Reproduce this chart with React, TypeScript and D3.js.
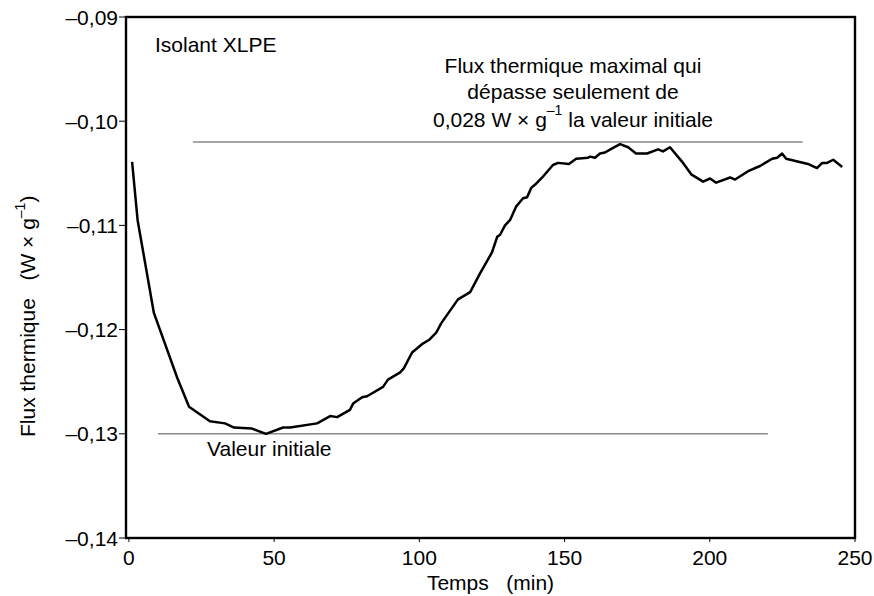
import React from "react";
import * as d3 from "d3";

const times = [1.1, 3.0, 8.6, 16.6, 20.7, 27.9, 33.1, 36.2, 42.4, 47.2, 53.1, 55.5, 64.8, 69.3, 71.7, 76.1, 77.2, 80.3, 82.0, 87.5, 89.2, 93.4, 94.7, 97.5, 100.9, 103.3, 105.8, 107.5, 113.3, 117.5, 120.9, 125.0, 126.8, 127.8, 129.5, 131.2, 133.3, 135.7, 137.1, 138.5, 139.8, 142.3, 146.0, 147.8, 151.5, 154.0, 158.1, 158.8, 160.5, 162.2, 163.9, 166.4, 169.1, 171.9, 174.6, 178.4, 182.2, 183.9, 186.3, 190.5, 193.6, 197.7, 200.1, 202.2, 207.0, 208.7, 213.2, 217.3, 221.5, 223.2, 224.9, 226.3, 233.8, 236.9, 238.7, 240.4, 242.5, 245.6];
const flux = [-0.1039, -0.1095, -0.1184, -0.1246, -0.1274, -0.1288, -0.129, -0.1294, -0.1295, -0.13, -0.1294, -0.1294, -0.129, -0.1283, -0.1284, -0.1277, -0.1271, -0.1265, -0.1264, -0.1255, -0.1248, -0.1241, -0.1237, -0.1222, -0.1214, -0.121, -0.1203, -0.1194, -0.1171, -0.1164, -0.1146, -0.1126, -0.1111, -0.1109, -0.11, -0.1095, -0.1082, -0.1074, -0.1073, -0.1064, -0.1061, -0.1054, -0.1042, -0.104, -0.1041, -0.1036, -0.1035, -0.1034, -0.1035, -0.1031, -0.103, -0.1026, -0.1022, -0.1025, -0.1031, -0.1031, -0.1027, -0.1029, -0.1025, -0.1039, -0.1051, -0.1058, -0.1055, -0.1059, -0.1054, -0.1056, -0.1048, -0.1043, -0.1036, -0.1035, -0.1031, -0.1036, -0.1041, -0.1045, -0.104, -0.104, -0.1037, -0.1044];

const xTicks = [0, 50, 100, 150, 200, 250];
const yTicks = [-0.14, -0.13, -0.12, -0.11, -0.1, -0.09];
const yTickLabels = ["–0,14", "–0,13", "–0,12", "–0,11", "–0,10", "–0,09"];

const initialValue = -0.13;
const initialSpan = [10, 220];
const maxValue = -0.102;
const maxSpan = [22, 232];

const FONT = "'Liberation Sans', Arial, Helvetica, sans-serif";

export default function App() {
  const left = 126, right = 855, top = 17, bottom = 538;
  const x = d3.scaleLinear().domain([-1, 250]).range([left, right]);
  const y = d3.scaleLinear().domain([-0.14, -0.09]).range([bottom, top]);
  const pts = times.map((t, i) => [t, flux[i]] as [number, number]);
  const line = d3.line<[number, number]>().x(d => x(d[0])).y(d => y(d[1]));
  const fs = 21;

  return (
    <svg width={874} height={596} style={{ position: "absolute", left: 0, top: 0, background: "#fff" }} fontFamily={FONT}>
      <rect x={0} y={0} width={874} height={596} fill="#fff" />
      {/* reference lines */}
      <line x1={x(initialSpan[0])} x2={x(initialSpan[1])} y1={y(initialValue)} y2={y(initialValue)} stroke="#8a8a8a" strokeWidth={1.6} />
      <line x1={x(maxSpan[0])} x2={x(maxSpan[1])} y1={y(maxValue)} y2={y(maxValue)} stroke="#8a8a8a" strokeWidth={1.6} />
      {/* curve */}
      <path d={line(pts) || ""} fill="none" stroke="#000" strokeWidth={2.5} strokeLinejoin="round" />
      {/* frame */}
      <rect x={left} y={top} width={right - left} height={bottom - top} fill="none" stroke="#000" strokeWidth={2.4} />
      {/* y ticks */}
      {yTicks.map((v, i) => (
        <g key={"y" + i}>
          <line x1={left - 7} x2={left} y1={y(v)} y2={y(v)} stroke="#000" strokeWidth={1} />
          <text x={left - 8} y={y(v)} dy="0.36em" textAnchor="end" fontSize={fs}>{yTickLabels[i]}</text>
        </g>
      ))}
      {/* x ticks */}
      {xTicks.map((t, i) => (
        <g key={"x" + i}>
          <line x1={x(t)} x2={x(t)} y1={bottom} y2={bottom + 4} stroke="#000" strokeWidth={1} />
          <text x={x(t)} y={565} textAnchor="middle" fontSize={fs}>{t}</text>
        </g>
      ))}
      {/* axis titles */}
      <text x={(left + right) / 2} y={590} textAnchor="middle" fontSize={fs}>{"Temps\u00a0\u00a0\u00a0(min)"}</text>
      <text transform="translate(35,437) rotate(-90)" textAnchor="start" fontSize={fs}>
        {"Flux thermique\u00a0\u00a0\u00a0(W × g"}
        <tspan dy={-10} fontSize={14}>–1</tspan>
        <tspan dy={10}>)</tspan>
      </text>
      {/* annotations */}
      <text x={155} y={52} fontSize={fs}>Isolant XLPE</text>
      <text x={207} y={456} fontSize={fs}>Valeur initiale</text>
      <text x={573} y={73} textAnchor="middle" fontSize={fs}>Flux thermique maximal qui</text>
      <text x={573} y={99} textAnchor="middle" fontSize={fs}>dépasse seulement de</text>
      <text x={573} y={127} textAnchor="middle" fontSize={fs}>
        {"0,028 W × g"}
        <tspan dy={-12} fontSize={14}>–1</tspan>
        <tspan dy={12}>{" la valeur initiale"}</tspan>
      </text>
    </svg>
  );
}
